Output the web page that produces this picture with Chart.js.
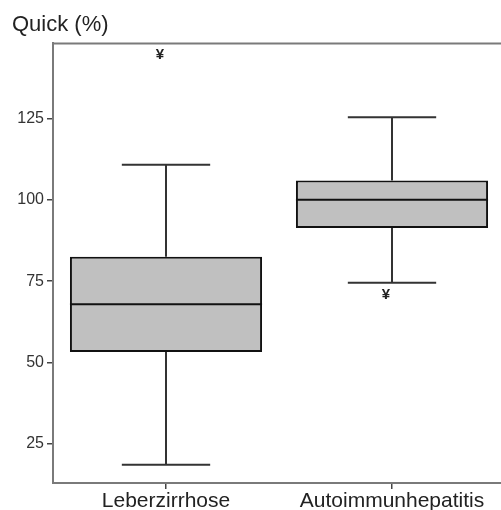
<!DOCTYPE html>
<html><head><meta charset="utf-8">
<script src="https://cdn.jsdelivr.net/npm/chart.js@4"></script>
<style>html,body{margin:0;padding:0;overflow:hidden;background:#fff}#wrap{width:506px;height:510px}</style>
</head><body><div id="wrap"><canvas id="c"></canvas></div>
<script>
const categories = ['Leberzirrhose', 'Autoimmunhepatitis'];
const whiskerLow = [18.6, 74.5];
const q1 = [53.2, 91.3];
const median = [67.9, 100];
const q3 = [82.5, 105.9];
const whiskerHigh = [110.7, 125.3];
const outliers = [[144.6], [70.8]];
const yTicks = [25, 50, 75, 100, 125];

const FONT = 'Liberation Sans, Arial, sans-serif';

const boxPlugin = {
  id: 'boxExtras',
  afterDatasetsDraw(chart) {
    const ctx = chart.ctx, xs = chart.scales.x, ys = chart.scales.y, ca = chart.chartArea;
    const meta = chart.getDatasetMeta(0);
    ctx.save();
    ctx.strokeStyle = '#7a7a7a'; ctx.lineWidth = 2;
    ctx.beginPath(); ctx.moveTo(ca.left, ca.top); ctx.lineTo(ca.right, ca.top); ctx.stroke();
    categories.forEach((c, i) => {
      const x = xs.getPixelForValue(i);
      const bw = meta.data[i].width;
      const cap = bw * 0.46;
      ctx.strokeStyle = '#333'; ctx.lineWidth = 2;
      ctx.beginPath();
      ctx.moveTo(x, ys.getPixelForValue(q3[i])); ctx.lineTo(x, ys.getPixelForValue(whiskerHigh[i]));
      ctx.moveTo(x, ys.getPixelForValue(q1[i])); ctx.lineTo(x, ys.getPixelForValue(whiskerLow[i]));
      ctx.moveTo(x - cap / 2, ys.getPixelForValue(whiskerHigh[i])); ctx.lineTo(x + cap / 2, ys.getPixelForValue(whiskerHigh[i]));
      ctx.moveTo(x - cap / 2, ys.getPixelForValue(whiskerLow[i])); ctx.lineTo(x + cap / 2, ys.getPixelForValue(whiskerLow[i]));
      ctx.stroke();
      ctx.strokeStyle = '#111'; ctx.lineWidth = 2;
      ctx.beginPath();
      ctx.moveTo(x - bw / 2, ys.getPixelForValue(median[i])); ctx.lineTo(x + bw / 2, ys.getPixelForValue(median[i]));
      ctx.stroke();
      ctx.fillStyle = '#222'; ctx.font = 'bold 15px ' + FONT;
      ctx.textAlign = 'center'; ctx.textBaseline = 'middle';
      outliers[i].forEach(v => ctx.fillText('¥', x - 6, ys.getPixelForValue(v)));
    });
    ctx.restore();
  }
};

new Chart(document.getElementById('c'), {
  type: 'bar',
  data: {
    labels: categories,
    datasets: [{
      data: categories.map((c, i) => [q1[i], q3[i]]),
      backgroundColor: '#c0c0c0',
      borderColor: '#111',
      borderWidth: 2,
      borderSkipped: false,
      barPercentage: 0.85,
      categoryPercentage: 1
    }]
  },
  options: {
    responsive: true,
    maintainAspectRatio: false,
    animation: false,
    layout: { padding: { left: 12, right: 1, top: 0, bottom: 0 } },
    plugins: {
      legend: { display: false },
      tooltip: { enabled: false },
      title: {
        display: true, text: 'Quick (%)', align: 'start', color: '#222',
        font: { family: FONT, size: 22, weight: 'normal' },
        padding: { top: 12, bottom: 5 }
      }
    },
    scales: {
      x: {
        offset: true,
        grid: { offset: false, drawOnChartArea: false, drawTicks: true, tickLength: 6, color: '#444', lineWidth: 1.5 },
        border: { display: true, color: '#7a7a7a', width: 2 },
        ticks: { color: '#222', padding: 0, font: { family: FONT, size: 21 }, maxRotation: 0, autoSkip: false },
        afterFit: s => { s.height = 27; }
      },
      y: {
        min: 13, max: 148,
        afterBuildTicks: s => { s.ticks = yTicks.map(v => ({ value: v })); },
        grid: { drawOnChartArea: false, drawTicks: true, tickLength: 6, color: '#444', lineWidth: 1.5 },
        border: { display: true, color: '#7a7a7a', width: 2 },
        ticks: { color: '#333', padding: 3, font: { family: FONT, size: 16 } },
        afterFit: s => { s.width = 41; }
      }
    }
  },
  plugins: [boxPlugin]
});
</script>
</body></html>
